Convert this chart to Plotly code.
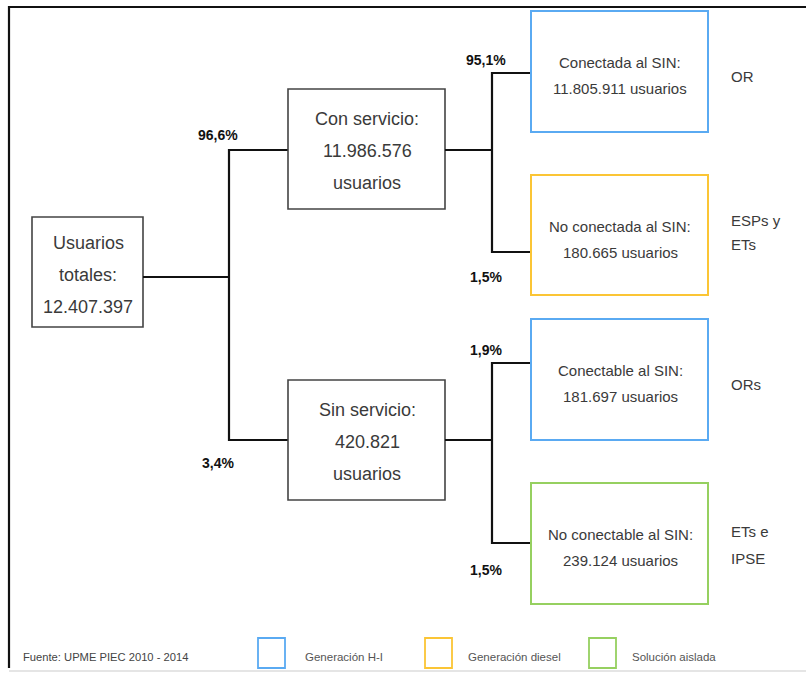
import plotly.graph_objects as go

# ---- data ----
root_label = ["Usuarios", "totales:", "12.407.397"]
mid_labels = ["Con servicio:", "Sin servicio:"]
mid_users = ["11.986.576", "420.821"]
mid_pcts = ["96,6%", "3,4%"]
leaf_labels = ["Conectada al SIN:", "No conectada al SIN:", "Conectable al SIN:", "No conectable al SIN:"]
leaf_users = ["11.805.911", "180.665", "181.697", "239.124"]
leaf_pcts = ["95,1%", "1,5%", "1,9%", "1,5%"]
leaf_agents = [["OR"], ["ESPs y", "ETs"], ["ORs"], ["ETs e", "IPSE"]]
leaf_types = [0, 1, 0, 2]
legend_labels = ["Generación H-I", "Generación diesel", "Solución aislada"]
source = "Fuente: UPME PIEC 2010 - 2014"

# ---- styling / layout ----
W, H = 806, 673
FONT = "Liberation Sans Narrow, Arial Narrow, Liberation Sans, Arial"
TXT = "#3a3a3a"
type_colors = ["#5aaaf2", "#fbc535", "#96d060"]
LINE = dict(color="#111111", width=2.2)

fig = go.Figure()
shapes, ann = [], []

def box(x0, y0, x1, y1, color, width):
    shapes.append(dict(type="rect", xref="x", yref="y", x0=x0, y0=y0, x1=x1, y1=y1,
                       line=dict(color=color, width=width), fillcolor="rgba(0,0,0,0)"))

def seg(pts):
    path = "M " + " L ".join(f"{x},{y}" for x, y in pts)
    shapes.append(dict(type="path", xref="x", yref="y", path=path, line=LINE))

def text(x, y, t, size, color=TXT, bold=False, anchor="center"):
    if bold:
        t = "<b>" + t + "</b>"
    ann.append(dict(x=x, y=y, xref="x", yref="y", text=t, showarrow=False,
                    font=dict(family=FONT, size=size, color=color),
                    xanchor=anchor, yanchor="middle"))

# outer frame
seg([(9, 668), (9, 7), (806, 7)])
shapes.append(dict(type="line", xref="x", yref="y", x0=9, y0=671, x1=806, y1=671,
                   line=dict(color="#dcdcdc", width=1.5)))

# root
box(32, 217, 143, 327, "#444444", 1.6)
for i, t in enumerate(root_label):
    text(88, 243 + i * 32, t, 18)

# root connector
seg([(143, 277), (229, 277)])
seg([(288, 150), (229, 150), (229, 440), (288, 440)])

mid_y = [(89, 209), (380, 500)]
mid_pct_y = [135, 463]
for k in range(2):
    y0, y1 = mid_y[k]
    box(288, y0, 445, y1, "#444444", 1.6)
    cy = (y0 + y1) / 2
    text(367, cy - 30, mid_labels[k], 18)
    text(367, cy + 2, mid_users[k], 18)
    text(367, cy + 34, "usuarios", 18)
    text(218, mid_pct_y[k], mid_pcts[k], 14, color="#111111", bold=True)

# second-level connectors
seg([(445, 150), (492, 150)])
seg([(532, 73), (492, 73), (492, 252), (532, 252)])
seg([(445, 440), (492, 440)])
seg([(532, 363), (492, 363), (492, 543), (532, 543)])

leaf_y = [(11, 132), (175, 295), (319, 440), (483, 604)]
pct_y = [60, 277, 350, 570]
agent_dy = [[5], [-15, 9], [5], [-12, 15]]
for k in range(4):
    y0, y1 = leaf_y[k]
    box(531, y0, 708, y1, type_colors[leaf_types[k]], 2)
    cy = (y0 + y1) / 2
    text(620, cy - 9, leaf_labels[k], 15)
    text(620, cy + 17, leaf_users[k] + " usuarios", 15)
    text(486, pct_y[k], leaf_pcts[k], 14, color="#111111", bold=True)
    for j, a in enumerate(leaf_agents[k]):
        text(729, cy + agent_dy[k][j], a, 15, anchor="left")

# legend
text(21, 657, source, 11.2, color="#444444", anchor="left")
leg_x = [258, 425, 589]
leg_tx = [303, 466, 630]
for i, lab in enumerate(legend_labels):
    box(leg_x[i], 638, leg_x[i] + 27, 668, type_colors[i], 1.8)
    text(leg_tx[i], 657, lab, 11.5, color="#555555", anchor="left")

fig.update_layout(
    width=W, height=H, margin=dict(l=0, r=0, t=0, b=0),
    paper_bgcolor="white", plot_bgcolor="white",
    xaxis=dict(range=[0, W], visible=False, fixedrange=True),
    yaxis=dict(range=[H, 0], visible=False, fixedrange=True),
    shapes=shapes, annotations=ann, showlegend=False,
)
fig.write_html("out.html", config={"displayModeBar": False},
               post_script="document.body.style.margin='0';document.body.style.overflow='hidden';")
